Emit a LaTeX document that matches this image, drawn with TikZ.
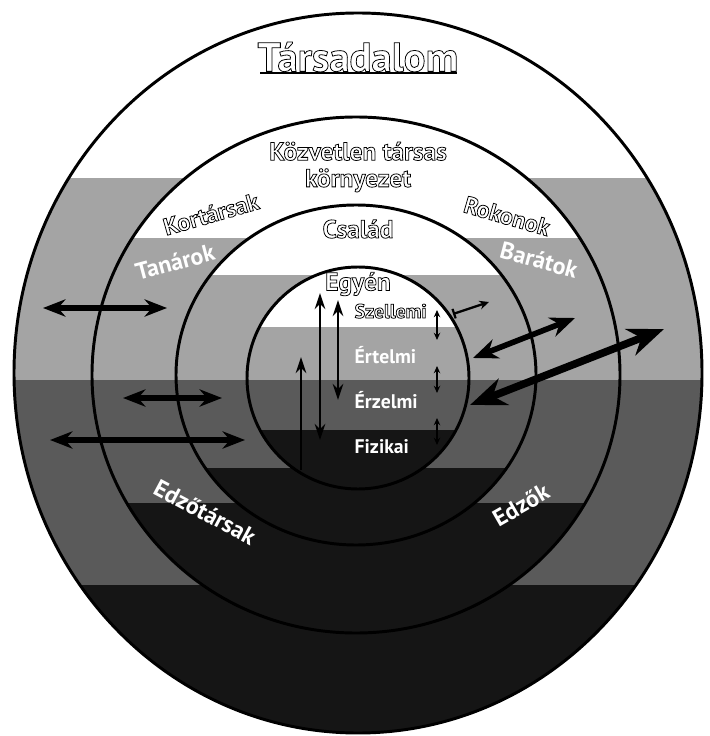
\documentclass[tikz,border=0pt]{standalone}
\usepackage{fontspec}
\setmainfont{PT Sans}
\usepackage[dvipsnames]{xcolor}
\usepackage{tikz}
\usetikzlibrary{arrows.meta}

\definecolor{bandlight}{HTML}{A4A4A4}
\definecolor{bandmid}{HTML}{5A5A5A}
\definecolor{banddark}{HTML}{151515}

% white letters with a thin black outline
\newcommand{\hollow}[1]{\special{pdf:literal direct 0 G 0.55 w 2 Tr}#1\special{pdf:literal direct 0 Tr}}

\begin{document}
\begin{tikzpicture}[x=0.25mm, y=-0.25mm,
  ring/.style={line width=2.1pt},
  outl/.style={text=white, inner sep=1pt},
  lbl/.style={text=white, inner sep=1pt, font=\bfseries\fontsize{17}{19}\selectfont},
  layer/.style={text=white, inner sep=1pt, anchor=base west, font=\bfseries\fontsize{14}{16}\selectfont},
  bigarr/.style={line width=5.4pt, {Stealth[length=9mm,width=7mm]}-{Stealth[length=9mm,width=7mm]}},
  midarr/.style={line width=4pt, {Stealth[length=6.2mm,width=5mm]}-{Stealth[length=6.2mm,width=5mm]}},
  horarr/.style={line width=3.6pt, {Stealth[length=5.6mm,width=4.3mm]}-{Stealth[length=5.6mm,width=4.3mm]}},
  varr/.style={line width=2pt},
  tinyarr/.style={line width=1.4pt, {Stealth[length=1.8mm,width=1.6mm]}-{Stealth[length=1.8mm,width=1.6mm]}},
]
\useasboundingbox (0,0) rectangle (709,736);
\fill[white] (0,0) rectangle (709,736);

% bands, outer ring first
\foreach \cx/\cy/\rx/\ry/\ya/\yb in {358/373/344/360/178/585, 356/375/264/258/238/503,
    356/375/180/170/275/468, 358/378/111/111/327/430}{
  \begin{scope}
    \clip (\cx,\cy) ellipse [x radius=\rx, y radius=\ry];
    \fill[white] (0,0) rectangle (709,\ya);
    \fill[bandlight] (0,\ya) rectangle (709,380);
    \fill[bandmid] (0,380) rectangle (709,\yb);
    \fill[banddark] (0,\yb) rectangle (709,740);
  \end{scope}
}
\foreach \cx/\cy/\rx/\ry in {358/373/344/360, 356/375/264/258, 356/375/180/170, 358/378/111/111}
  \draw[ring] (\cx,\cy) ellipse [x radius=\rx, y radius=\ry];

% arrows
\draw[horarr] (43,308) -- (167,308);
\draw[horarr] (123,398) -- (222,398);
\draw[horarr] (50,440) -- (245,440);
\draw[varr, -{Stealth[length=4mm,width=2.6mm]}] (301,470) -- (301,357);
\draw[varr, {Stealth[length=4mm,width=2.6mm]}-{Stealth[length=4mm,width=2.6mm]}] (320,440) -- (320,293);
\draw[varr, {Stealth[length=4mm,width=2.6mm]}-{Stealth[length=4mm,width=2.6mm]}] (338,400) -- (338,300);
\draw[tinyarr] (437,310) -- (437,340);
\draw[tinyarr] (437,366) -- (437,393);
\draw[tinyarr] (437,418) -- (437,445);
\draw[line width=1.6pt, {Bar[width=2.5mm]}-{Stealth[length=2.4mm,width=2.2mm]}] (453,314) -- (489,302);
\draw[midarr] (473,358) -- (575,318);
\draw[bigarr] (470,405) -- (664,329);

% labels
\node[outl, font=\bfseries\fontsize{29}{32}\selectfont] (soc) at (358,57) {\hollow{Társadalom}};
\draw[line width=1.1pt] (260,73) -- (457,73);
\node[outl, font=\bfseries\fontsize{18}{20}\selectfont, align=center] (kozv) at (358,167)
  {\hollow{Közvetlen társas}\\[-1pt]\hollow{környezet}};
\node[outl, font=\bfseries\fontsize{18}{20}\selectfont] (csal) at (358,229) {\hollow{Család}};
\node[outl, font=\bfseries\fontsize{18}{20}\selectfont] (egyen) at (358,284) {\hollow{Egyén}};
\node[outl, font=\bfseries\fontsize{17}{19}\selectfont, rotate=16] (kort) at (211,214) {\hollow{Kortársak}};
\node[outl, font=\bfseries\fontsize{17}{19}\selectfont, rotate=-16] (rokon) at (507,216) {\hollow{Rokonok}};
\node[lbl, rotate=15] (tanar) at (175,262) {Tanárok};
\node[lbl, rotate=-15] (barat) at (539,260) {Barátok};
\node[lbl, rotate=-28] (edzot) at (205,512) {Edzőtársak};
\node[lbl, rotate=30] (edzok) at (521,505) {Edzők};
\node[outl, anchor=base west, font=\bfseries\fontsize{14}{16}\selectfont] (szell) at (353,318) {\hollow{Szellemi}};
\node[layer] (ertel) at (353,363) {Értelmi};
\node[layer] (erzel) at (353,408) {Érzelmi};
\node[layer] (fiz) at (353,453) {Fizikai};
\end{tikzpicture}
\end{document}
